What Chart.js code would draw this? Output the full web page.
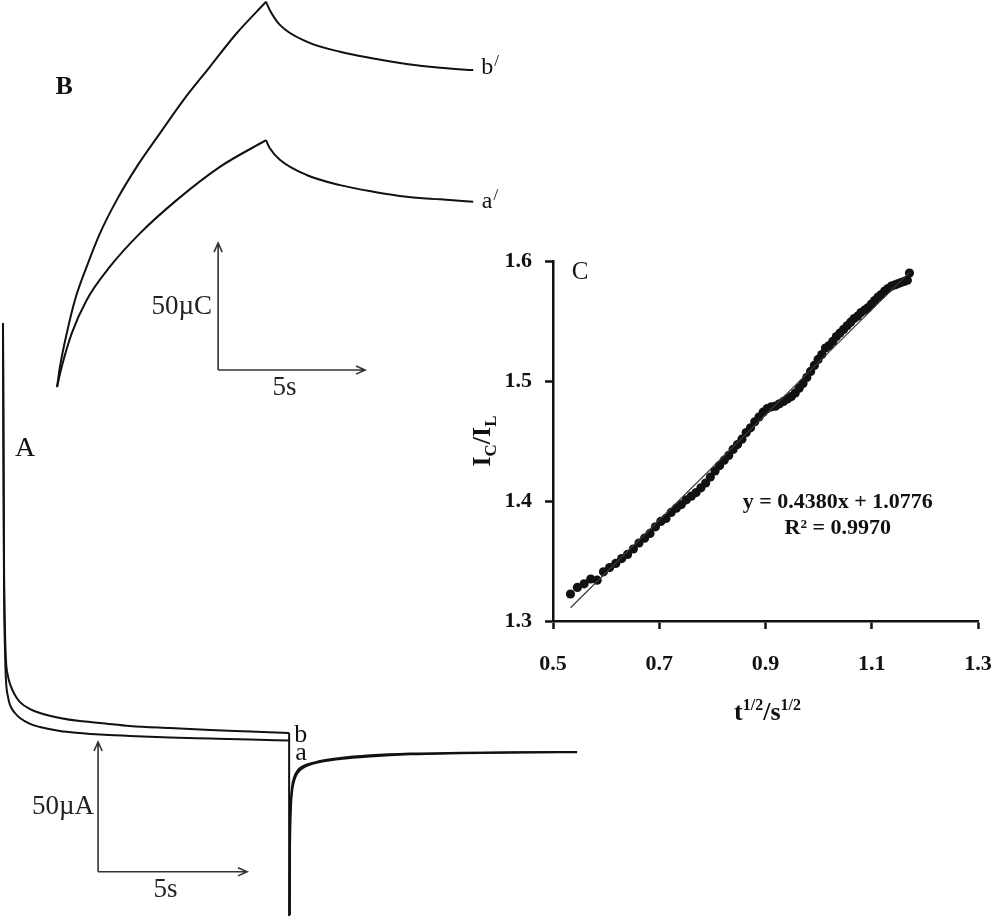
<!DOCTYPE html>
<html>
<head>
<meta charset="utf-8">
<script src="https://cdn.jsdelivr.net/npm/chart.js@4.4.0/dist/chart.umd.min.js"></script>
<style>
  html, body { margin: 0; padding: 0; background: #fff; }
  #page { position: relative; width: 1000px; height: 916px; overflow: hidden; }
  canvas { position: absolute; }
  #chartB { left: 0; top: 0; }
  #chartA { left: 0; top: 300px; }
  #chartC { left: 440px; top: 240px; }
</style>
</head>
<body>
<div id="page">
  <canvas id="chartB" width="520" height="400"></canvas>
  <canvas id="chartA" width="620" height="616"></canvas>
  <canvas id="chartC" width="560" height="560"></canvas>
</div>
<script>
// Panel A - chronoamperograms: time (s) vs current (µA)
const fwdTime = [0, 0.017, 0.034, 0.067, 0.10, 0.168, 0.235, 0.40, 0.57, 0.91, 1.24, 1.91, 2.58, 3.26, 4.26, 5.60, 6.95, 8.29, 9.60];
const fwdCurrentB = [162.3, 113.5, 71.2, 44.2, 32.7, 26.5, 23.5, 19.2, 16.5, 13.8, 12.3, 10.4, 9.2, 8.5, 7.3, 6.5, 5.8, 5.2, 4.6];
const fwdCurrentA = [162.3, 113.5, 63.5, 36.5, 25.0, 18.5, 15.4, 12.3, 10.4, 8.1, 6.9, 5.4, 4.6, 4.0, 3.5, 2.9, 2.5, 2.1, 1.7];
const stepTime = [9.60, 9.60];
const stepCurrent = [4.6, -65.8];
const revTime = [9.62, 9.63, 9.66, 9.70, 9.77, 9.87, 10.07, 10.64, 11.31, 12.32, 13.66, 15.34, 17.35, 19.26];
const revCurrentB = [-65.4, -36.5, -21.2, -15.8, -12.3, -10.0, -8.1, -6.2, -5.0, -4.0, -3.3, -3.0, -2.8, -2.7];
const revCurrentA = [-65.4, -40.0, -24.5, -18.0, -13.8, -11.0, -8.8, -6.6, -5.4, -4.4, -3.6, -3.2, -2.9, -2.8];

// Panel B - chronocoulograms: time (s) vs charge (µC)
const riseTimeB = [0, 0.10, 0.33, 0.61, 1.01, 1.46, 2.03, 2.71, 3.50, 4.30, 5.20, 6.11, 7.11];
const riseChargeB = [0, 8.0, 21.1, 34.3, 47.4, 60.5, 73.6, 86.7, 99.9, 113.0, 126.1, 139.3, 151.7];
const riseTimeA = [0, 0.16, 0.50, 1.01, 1.80, 2.82, 4.07, 5.54, 7.11];
const riseChargeA = [0, 8.0, 21.1, 34.3, 47.4, 60.5, 73.6, 86.7, 97.2];
const decayTime = [7.11, 7.24, 7.59, 8.49, 9.63, 10.76, 11.89, 13.03, 14.16];
const decayChargeB = [151.7, 148.4, 142.5, 136.0, 132.0, 129.4, 127.2, 125.7, 124.8];
const decayChargeA = [97.2, 94.0, 89.4, 83.5, 79.5, 76.9, 74.9, 73.9, 73.0];

// scale bars: corner (time, value), 5 s and 50 units long
const scaleBarA = [3.19, -48.8];
const scaleBarB = [5.48, 6.7];

// Panel C - IC/IL vs t^1/2
const sqrtTime = [0.5329, 0.5459, 0.5586, 0.5710, 0.5831, 0.5950, 0.6066, 0.6181, 0.6293, 0.6403,
  0.6512, 0.6618, 0.6723, 0.6826, 0.6928, 0.7029, 0.7127, 0.7225, 0.7321, 0.7416,
  0.7510, 0.7603, 0.7694, 0.7785, 0.7874, 0.7962, 0.8050, 0.8136, 0.8222, 0.8307,
  0.8390, 0.8473, 0.8556, 0.8637, 0.8718, 0.8798, 0.8877, 0.8955, 0.9033, 0.9110,
  0.9187, 0.9263, 0.9338, 0.9413, 0.9487, 0.9560, 0.9633, 0.9706, 0.9778, 0.9849,
  0.9920, 0.9990, 1.0060, 1.0129, 1.0198, 1.0266, 1.0335, 1.0402, 1.0469, 1.0536,
  1.0602, 1.0668, 1.0733, 1.0798, 1.0863, 1.0927, 1.0991, 1.1054, 1.1118, 1.1180,
  1.1243, 1.1305, 1.1367, 1.1428, 1.1489, 1.1550, 1.1610, 1.1670, 1.1710];
const currentRatio = [1.3225, 1.3280, 1.3310, 1.3350, 1.3340, 1.3410, 1.3445, 1.3480, 1.3520, 1.3555,
  1.3600, 1.3650, 1.3690, 1.3730, 1.3785, 1.3830, 1.3855, 1.3905, 1.3940, 1.3970,
  1.4010, 1.4040, 1.4070, 1.4110, 1.4150, 1.4200, 1.4250, 1.4295, 1.4340, 1.4380,
  1.4430, 1.4470, 1.4515, 1.4570, 1.4610, 1.4660, 1.4700, 1.4740, 1.4770, 1.4785,
  1.4790, 1.4810, 1.4830, 1.4850, 1.4870, 1.4900, 1.4940, 1.4980, 1.5030, 1.5080,
  1.5130, 1.5180, 1.5220, 1.5275, 1.5295, 1.5330, 1.5370, 1.5400, 1.5430, 1.5460,
  1.5490, 1.5520, 1.5540, 1.5570, 1.5590, 1.5610, 1.5640, 1.5670, 1.5700, 1.5720,
  1.5750, 1.5770, 1.5790, 1.5800, 1.5810, 1.5820, 1.5830, 1.5840, 1.5900];
const fitX = [0.533, 1.171];
const fitY = [1.3110, 1.5905];
const xTicksC = [0.5, 0.7, 0.9, 1.1, 1.3];
const yTicksC = [1.3, 1.4, 1.5, 1.6];

const INK = "#111";
const SERIF = '"Liberation Serif", "Times New Roman", serif';

const pts = (xs, ys) => xs.map((x, i) => ({ x, y: ys[i] }));

function curve(xs, ys, smooth = true) {
    return {
        data: pts(xs, ys),
        borderColor: INK,
        borderWidth: 2,
        pointRadius: 0,
        fill: false,
        clip: false,
        cubicInterpolationMode: smooth ? "monotone" : "default",
        tension: 0,
    };
}

function drawArrow(ctx, x0, y0, x1, y1) {
    const ang = Math.atan2(y1 - y0, x1 - x0), len = 10, spread = 0.42;
    ctx.beginPath();
    ctx.moveTo(x0, y0);
    ctx.lineTo(x1, y1);
    ctx.moveTo(x1 - len * Math.cos(ang - spread), y1 - len * Math.sin(ang - spread));
    ctx.lineTo(x1, y1);
    ctx.lineTo(x1 - len * Math.cos(ang + spread), y1 - len * Math.sin(ang + spread));
    ctx.stroke();
}

// scale bar arrows + their labels, placed through the chart scales
function scaleBar(corner, yLabel, gap) {
    return {
        id: "scaleBar",
        afterDatasetsDraw(chart) {
            const { ctx, scales: { x, y } } = chart;
            const x0 = x.getPixelForValue(corner[0]);
            const y0 = y.getPixelForValue(corner[1]);
            const x1 = x.getPixelForValue(corner[0] + 5);
            const y1 = y.getPixelForValue(corner[1] + 50);
            ctx.save();
            ctx.strokeStyle = "#333";
            ctx.lineWidth = 1.6;
            drawArrow(ctx, x0, y0, x1, y0);
            drawArrow(ctx, x0, y0, x0, y1);
            ctx.fillStyle = "#222";
            ctx.font = "27px " + SERIF;
            ctx.textBaseline = "middle";
            ctx.textAlign = "right";
            ctx.fillText(yLabel, x0 - gap, (y0 + y1) / 2);
            ctx.textAlign = "center";
            ctx.fillText("5s", (x0 + x1) / 2 - 7, y0 + 18);
            ctx.restore();
        }
    };
}

// curve names and panel letters
function labels(items) {
    return {
        id: "labels",
        afterDatasetsDraw(chart) {
            const { ctx, scales: { x, y } } = chart;
            ctx.save();
            ctx.fillStyle = INK;
            items.forEach(it => {
                const px = x.getPixelForValue(it.at[0]) + (it.dx || 0);
                const py = y.getPixelForValue(it.at[1]) + (it.dy || 0);
                ctx.font = it.font;
                ctx.textAlign = it.align || "left";
                ctx.textBaseline = it.base || "alphabetic";
                ctx.fillText(it.text, px, py);
                if (it.prime) {
                    const w = ctx.measureText(it.text).width;
                    ctx.font = "17px " + SERIF;
                    ctx.fillText("/", px + w + 1, py - 8);
                }
            });
            ctx.restore();
        }
    };
}

const hiddenScales = (xMin, xMax, yMin, yMax) => ({
    x: { type: "linear", display: false, min: xMin, max: xMax },
    y: { type: "linear", display: false, min: yMin, max: yMax },
});

const baseOptions = {
    responsive: false,
    animation: false,
    layout: { padding: 0 },
    plugins: { legend: { display: false }, tooltip: { enabled: false } },
};

// Panel A
new Chart(document.getElementById("chartA"), {
    type: "line",
    data: {
        datasets: [
            curve(fwdTime, fwdCurrentB),
            curve(fwdTime, fwdCurrentA),
            curve(stepTime, stepCurrent, false),
            curve(revTime, revCurrentB),
            curve(revTime, revCurrentA),
        ],
    },
    options: { ...baseOptions, scales: hiddenScales(-0.1, 20.7, -65.8, 171.2) },
    plugins: [
        scaleBar(scaleBarA, "50µA", 4),
        labels([
            { text: "A", at: [0.74, 114.2], font: "28px " + SERIF, align: "center", base: "middle" },
            { text: "b", at: [9.60, 4.6], dx: 5, dy: 9, font: "26px " + SERIF },
            { text: "a", at: [9.60, 1.7], dx: 6, dy: 19.5, font: "26px " + SERIF },
        ]),
    ],
});

// Panel B
new Chart(document.getElementById("chartB"), {
    type: "line",
    data: {
        datasets: [
            curve(riseTimeB, riseChargeB),
            curve(decayTime, decayChargeB),
            curve(riseTimeA, riseChargeA),
            curve(decayTime, decayChargeA),
        ],
    },
    options: { ...baseOptions, scales: hiddenScales(-1.94, 15.75, -5.1, 152.4) },
    plugins: [
        scaleBar(scaleBarB, "50µC", 6),
        labels([
            { text: "B", at: [0.24, 118.1], font: "bold 26px " + SERIF, align: "center", base: "middle" },
            { text: "b", at: [14.16, 124.8], dx: 8, dy: 4, font: "24px " + SERIF, prime: true },
            { text: "a", at: [14.16, 73.0], dx: 8.5, dy: 6.5, font: "24px " + SERIF, prime: true },
        ]),
    ],
});

// Panel C text: letter, regression equation and rich axis titles
function richText(ctx, parts, cx, baseY) {
    let total = 0;
    parts.forEach(p => {
        ctx.font = "bold " + p.size + "px " + SERIF;
        p.w = ctx.measureText(p.text).width;
        total += p.w;
    });
    let xPos = cx - total / 2;
    parts.forEach(p => {
        ctx.font = "bold " + p.size + "px " + SERIF;
        ctx.fillText(p.text, xPos, baseY + p.dy);
        xPos += p.w;
    });
}

const textC = {
    id: "textC",
    afterDraw(chart) {
        const { ctx, chartArea: area, scales: { x, y } } = chart;
        ctx.save();
        ctx.fillStyle = INK;
        ctx.textAlign = "center";
        ctx.textBaseline = "middle";
        ctx.font = "25px " + SERIF;
        ctx.fillText("C", area.left + 27, area.top + 11);
        ctx.font = "bold 22px " + SERIF;
        ctx.fillText("y = 0.4380x + 1.0776", x.getPixelForValue(1.036), y.getPixelForValue(1.399));
        ctx.fillText("R² = 0.9970", x.getPixelForValue(1.036), y.getPixelForValue(1.3775));

        ctx.textAlign = "left";
        ctx.textBaseline = "alphabetic";
        richText(ctx, [
            { text: "t", size: 26, dy: 0 },
            { text: "1/2", size: 16, dy: -10 },
            { text: "/s", size: 26, dy: 0 },
            { text: "1/2", size: 16, dy: -10 },
        ], (area.left + area.right) / 2 + 2, area.bottom + 99);

        ctx.translate(area.left - 63, (area.top + area.bottom) / 2);
        ctx.rotate(-Math.PI / 2);
        richText(ctx, [
            { text: "I", size: 26, dy: 0 },
            { text: "C", size: 17, dy: 6 },
            { text: "/I", size: 26, dy: 0 },
            { text: "L", size: 17, dy: 6 },
        ], 0, 0);
        ctx.restore();
    }
};

const axisStyle = {
    grid: { drawOnChartArea: false, drawTicks: true, tickLength: 8, tickWidth: 2.5, tickColor: INK },
    border: { display: true, color: INK, width: 2.5 },
};
const tickFont = { family: "Liberation Serif", size: 22, weight: "bold" };

new Chart(document.getElementById("chartC"), {
    type: "scatter",
    data: {
        datasets: [
            {
                data: pts(fitX, fitY),
                showLine: true,
                borderColor: "#3a3a3a",
                borderWidth: 1.2,
                pointRadius: 0,
            },
            {
                data: pts(sqrtTime, currentRatio),
                pointRadius: 4.6,
                pointBackgroundColor: INK,
                pointBorderWidth: 0,
                showLine: false,
            },
        ],
    },
    options: {
        ...baseOptions,
        layout: { padding: { top: 21, right: 22, left: 0, bottom: 0 } },
        scales: {
            x: {
                type: "linear", min: 0.5, max: 1.3,
                ...axisStyle,
                afterFit: s => { s.height = 179; s.paddingLeft = 0; s.paddingRight = 0; },
                afterBuildTicks: s => { s.ticks = xTicksC.map(v => ({ value: v })); },
                ticks: { font: tickFont, color: INK, padding: 22, maxRotation: 0, callback: v => v.toFixed(1) },
            },
            y: {
                type: "linear", min: 1.3, max: 1.6,
                ...axisStyle,
                afterFit: s => { s.width = 113; s.paddingTop = 0; s.paddingBottom = 0; },
                afterBuildTicks: s => { s.ticks = yTicksC.map(v => ({ value: v })); },
                ticks: { font: tickFont, color: INK, padding: 13, callback: v => v.toFixed(1) },
            },
        },
    },
    plugins: [textC],
});
</script>
</body>
</html>
